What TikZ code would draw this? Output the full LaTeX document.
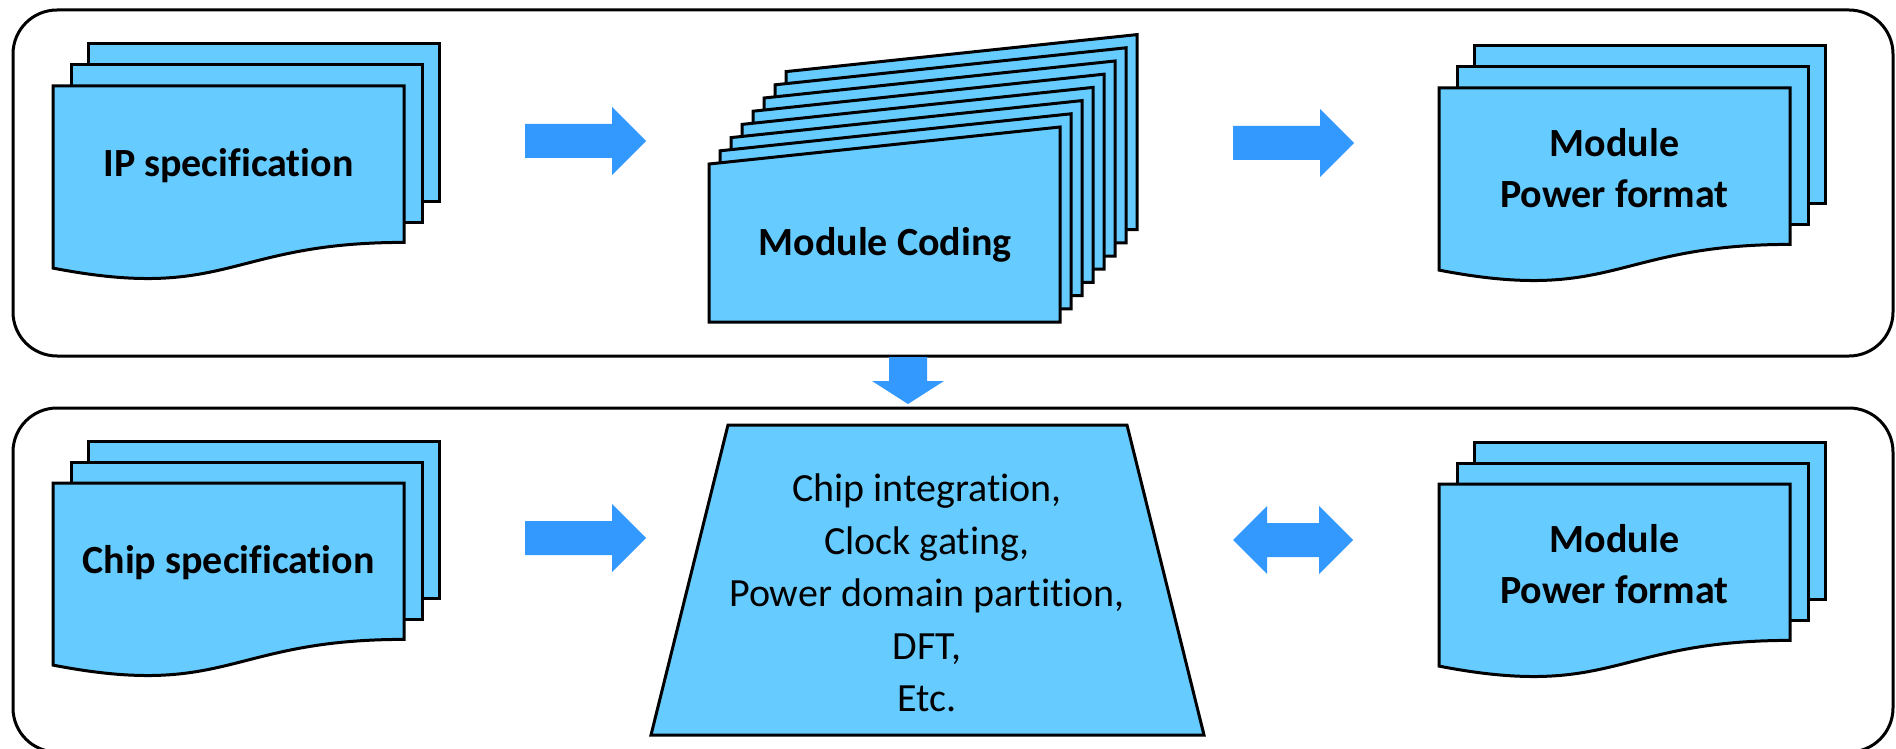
\documentclass[tikz,border=0pt]{standalone}
\usepackage{fontspec}
\setmainfont{Carlito}[Ligatures={NoCommon}]
\definecolor{docblue}{RGB}{102,204,255}
\definecolor{arrowblue}{RGB}{51,153,255}

% stacked document: #1,#2 = top-left of the front sheet, #3 = node name, #4 = label
\newcommand\multidoc[4]{%
  \draw[page] (#1+35,#2-42) rectangle ++(351,157);
  \draw[page] (#1+18,#2-21) rectangle ++(351,157);
  \draw[page] (#1,#2) -- (#1+351,#2) -- (#1+351,#2+156.4)
    .. controls (#1+175.5,#2+156.4) and (#1+175.5,#2+216) .. (#1,#2+182.1) -- cycle;
  \node[doclabel] (#3) at (#1+175.5,#2+80) {#4};
}
% block arrow pointing right, tail centre given
\newcommand\fatright[1]{%
  \fill[fat] (#1) ++(0,-17) -- ++(87,0) -- ++(0,-17) -- ++(34,34)
    -- ++(-34,34) -- ++(0,-17) -- ++(-87,0) -- cycle;
}

\begin{document}
\begin{tikzpicture}[x=0.5pt,y=-0.5pt,
  page/.style={draw=black, line width=1.5pt, line join=miter, fill=docblue},
  panel/.style={draw=black, line width=1.5pt, rounded corners=22pt},
  fat/.style={fill=arrowblue},
  doclabel/.style={font=\bfseries\fontsize{20}{25.5}\selectfont, align=center, inner sep=0pt},
  steplabel/.style={font=\fontsize{20}{26.25}\selectfont, align=center, inner sep=0pt}]

\fill[white] (0,0) rectangle (1896,749);
\clip (0,0) rectangle (1896,749);

% two stage panels
\draw[panel] (13,10) rectangle (1893,356);
\draw[panel] (13,408) rectangle (1893,752);

% top stage
\multidoc{53}{86}{ipspec}{IP specification}

\foreach \i in {7,...,0} {
  \draw[page] ({709+11*\i},{164-13.2*\i}) -- ({1060+11*\i},{127-13.2*\i})
    -- ({1060+11*\i},{322-13.2*\i}) -- ({709+11*\i},{322-13.2*\i}) -- cycle;
}
\node[doclabel] (coding) at (885,245) {Module Coding};

\multidoc{1439}{88}{mpftop}{Module\\Power format}

\coordinate (a1) at (525,141);
\coordinate (a2) at (1233,143);
\fatright{a1}
\fatright{a2}

% hand-over between stages
\coordinate (down) at (908,357);
\fill[fat] (down) ++(-19,0) -- ++(38,0) -- ++(0,24) -- ++(17,0)
  -- ++(-36,23) -- ++(-36,-23) -- ++(17,0) -- cycle;

% bottom stage
\multidoc{53}{483}{chipspec}{Chip specification}

\draw[page] (728,425) -- (1127,425) -- (1204,735) -- (651,735) -- cycle;
\node[steplabel] (integration) at (927,593)
  {Chip integration,\\Clock gating,\\Power domain partition,\\DFT,\\Etc.};

\multidoc{1439}{484}{mpfbot}{Module\\Power format}

\coordinate (a3) at (525,538);
\fatright{a3}

\coordinate (dbl) at (1233,540);
\fill[fat] (dbl) -- ++(34,-34) -- ++(0,17) -- ++(52,0) -- ++(0,-17) -- ++(34,34)
  -- ++(-34,34) -- ++(0,-17) -- ++(-52,0) -- ++(0,17) -- cycle;

\end{tikzpicture}
\end{document}
